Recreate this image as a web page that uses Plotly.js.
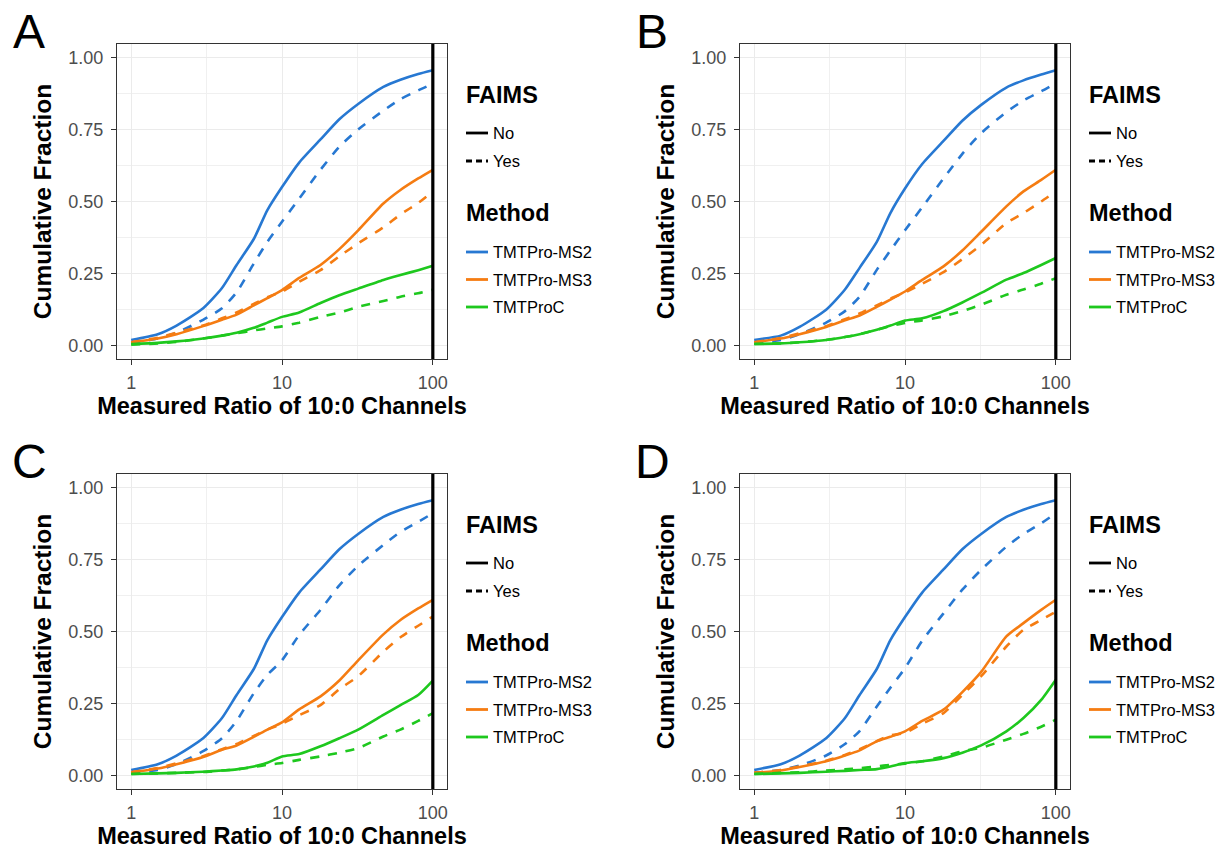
<!DOCTYPE html>
<html>
<head>
<meta charset="utf-8">
<script src="https://cdn.plot.ly/plotly-3.0.1.min.js"></script>
<style>html,body{margin:0;padding:0;background:#fff;}#chart{width:1227px;height:849px;}</style>
</head>
<body>
<div id="chart"></div>
<script>
// ---------- data ----------
const ratio = [1, 1.5, 2, 3, 4, 5, 6.5, 8, 10, 13, 18, 24, 32, 47, 61, 80, 100];
const methods = ['TMTPro-MS2', 'TMTPro-MS3', 'TMTProC'];
const methodColors = ['#2778d2', '#f57c12', '#1ec81e'];
const faimsLevels = ['No', 'Yes'];
const panelLabels = ['A', 'B', 'C', 'D'];
const xTickVals = [1, 10, 100];
const xTickText = ['1', '10', '100'];
const yTickVals = [0, 0.25, 0.5, 0.75, 1];
const yTickText = ['0.00', '0.25', '0.50', '0.75', '1.00'];
const refRatio = 100;

// Panel A
const A_ms2_no  = [0.02, 0.04, 0.07, 0.13, 0.20, 0.28, 0.37, 0.47, 0.55, 0.635, 0.715, 0.785, 0.838, 0.897, 0.922, 0.942, 0.955];
const A_ms2_yes = [0.01, 0.025, 0.045, 0.09, 0.13, 0.185, 0.285, 0.36, 0.43, 0.51, 0.61, 0.69, 0.75, 0.815, 0.855, 0.885, 0.908];
const A_ms3_no  = [0.012, 0.025, 0.04, 0.068, 0.09, 0.108, 0.14, 0.165, 0.193, 0.235, 0.28, 0.335, 0.40, 0.493, 0.54, 0.58, 0.61];
const A_ms3_yes = [0.012, 0.028, 0.045, 0.07, 0.095, 0.115, 0.145, 0.168, 0.188, 0.222, 0.262, 0.31, 0.355, 0.41, 0.455, 0.495, 0.535];
const A_proc_no = [0.006, 0.01, 0.015, 0.025, 0.035, 0.045, 0.062, 0.08, 0.10, 0.115, 0.148, 0.175, 0.198, 0.228, 0.245, 0.262, 0.277];
const A_proc_yes= [0.004, 0.008, 0.013, 0.025, 0.035, 0.043, 0.053, 0.06, 0.067, 0.08, 0.10, 0.115, 0.135, 0.155, 0.17, 0.182, 0.194];
// Panel B
const B_ms2_no  = [0.02, 0.035, 0.065, 0.125, 0.195, 0.27, 0.36, 0.46, 0.545, 0.63, 0.71, 0.78, 0.835, 0.895, 0.92, 0.94, 0.955];
const B_ms2_yes = [0.01, 0.02, 0.04, 0.08, 0.12, 0.17, 0.263, 0.33, 0.40, 0.48, 0.58, 0.665, 0.737, 0.81, 0.85, 0.882, 0.91];
const B_ms3_no  = [0.012, 0.025, 0.04, 0.065, 0.088, 0.105, 0.135, 0.16, 0.188, 0.228, 0.275, 0.33, 0.395, 0.483, 0.535, 0.575, 0.61];
const B_ms3_yes = [0.012, 0.027, 0.043, 0.068, 0.092, 0.112, 0.14, 0.163, 0.185, 0.215, 0.255, 0.30, 0.35, 0.425, 0.46, 0.50, 0.535];
const B_proc_no = [0.006, 0.008, 0.012, 0.02, 0.03, 0.04, 0.055, 0.07, 0.087, 0.095, 0.12, 0.15, 0.183, 0.229, 0.252, 0.28, 0.304];
const B_proc_yes= [0.006, 0.008, 0.012, 0.02, 0.03, 0.04, 0.055, 0.068, 0.079, 0.088, 0.102, 0.12, 0.142, 0.177, 0.195, 0.215, 0.234];
// Panel C
const C_ms2_no  = [0.02, 0.04, 0.07, 0.13, 0.20, 0.28, 0.37, 0.47, 0.55, 0.635, 0.715, 0.785, 0.838, 0.897, 0.922, 0.942, 0.955];
const C_ms2_yes = [0.01, 0.02, 0.04, 0.085, 0.13, 0.19, 0.286, 0.35, 0.40, 0.488, 0.575, 0.66, 0.728, 0.80, 0.845, 0.88, 0.91];
const C_ms3_no  = [0.012, 0.025, 0.04, 0.065, 0.09, 0.105, 0.135, 0.16, 0.185, 0.23, 0.275, 0.33, 0.40, 0.49, 0.54, 0.58, 0.61];
const C_ms3_yes = [0.012, 0.027, 0.043, 0.068, 0.092, 0.11, 0.138, 0.16, 0.18, 0.21, 0.245, 0.30, 0.345, 0.43, 0.48, 0.52, 0.552];
const C_proc_no = [0.006, 0.008, 0.01, 0.014, 0.018, 0.022, 0.032, 0.045, 0.067, 0.075, 0.102, 0.13, 0.16, 0.211, 0.245, 0.28, 0.33];
const C_proc_yes= [0.006, 0.008, 0.01, 0.013, 0.018, 0.022, 0.03, 0.038, 0.044, 0.055, 0.067, 0.08, 0.096, 0.136, 0.16, 0.19, 0.217];
// Panel D
const D_ms2_no  = [0.02, 0.04, 0.07, 0.13, 0.20, 0.28, 0.37, 0.47, 0.55, 0.635, 0.715, 0.785, 0.838, 0.897, 0.922, 0.942, 0.955];
const D_ms2_yes = [0.01, 0.02, 0.035, 0.07, 0.11, 0.155, 0.24, 0.305, 0.373, 0.468, 0.563, 0.645, 0.714, 0.794, 0.838, 0.875, 0.91];
const D_ms3_no  = [0.01, 0.018, 0.03, 0.05, 0.07, 0.088, 0.119, 0.135, 0.154, 0.19, 0.229, 0.29, 0.36, 0.483, 0.529, 0.575, 0.61];
const D_ms3_yes = [0.01, 0.02, 0.032, 0.052, 0.072, 0.092, 0.12, 0.14, 0.148, 0.18, 0.217, 0.28, 0.345, 0.448, 0.506, 0.54, 0.569];
const D_proc_no = [0.006, 0.008, 0.01, 0.014, 0.017, 0.02, 0.023, 0.032, 0.044, 0.05, 0.061, 0.08, 0.105, 0.154, 0.20, 0.263, 0.333];
const D_proc_yes= [0.006, 0.01, 0.012, 0.018, 0.022, 0.026, 0.032, 0.038, 0.042, 0.05, 0.067, 0.085, 0.097, 0.125, 0.145, 0.17, 0.194];

const panelSeries = [
  [[A_ms2_no, A_ms2_yes], [A_ms3_no, A_ms3_yes], [A_proc_no, A_proc_yes]],
  [[B_ms2_no, B_ms2_yes], [B_ms3_no, B_ms3_yes], [B_proc_no, B_proc_yes]],
  [[C_ms2_no, C_ms2_yes], [C_ms3_no, C_ms3_yes], [C_proc_no, C_proc_yes]],
  [[D_ms2_no, D_ms2_yes], [D_ms3_no, D_ms3_yes], [D_proc_no, D_proc_yes]]
];

// ---------- layout geometry (pixels) ----------
const W = 1227, H = 849;
const FONT = 'Liberation Sans, Arial, sans-serif';
const colLeft = [117, 740], plotW = 330;
const rowTop = [44, 474], plotH = 315;
const cols = [0, 1, 0, 1], rows = [0, 0, 1, 1];
const dashes = ['solid', 'dash'];

const traces = [];
const layout = {
  width: W, height: H,
  margin: {l: 0, r: 0, t: 0, b: 0},
  paper_bgcolor: '#ffffff', plot_bgcolor: '#ffffff',
  showlegend: false,
  font: {family: FONT, color: '#000'},
  shapes: [], annotations: []
};

panelLabels.forEach((lab, p) => {
  const sfx = p === 0 ? '' : String(p + 1);
  const xa = 'x' + sfx, ya = 'y' + sfx;
  const x0 = colLeft[cols[p]], y0 = rowTop[rows[p]];
  layout['xaxis' + sfx] = {
    type: 'log', range: [-0.094, 2.094], anchor: ya,
    domain: [x0 / W, (x0 + plotW) / W],
    tickvals: xTickVals, ticktext: xTickText,
    ticks: 'outside', ticklen: 5, tickwidth: 1.3, tickcolor: '#333',
    ticklabelstandoff: 2,
    tickfont: {family: FONT, size: 18, color: '#4d4d4d'},
    showgrid: true, gridcolor: '#ebebeb', gridwidth: 1.4,
    minor: {tickvals: [3.1623, 31.623], showgrid: true, gridcolor: '#f0f0f0', gridwidth: 0.9, ticks: ''},
    showline: true, mirror: true, linecolor: '#333', linewidth: 1.2,
    zeroline: false,
    title: {text: 'Measured Ratio of 10:0 Channels', standoff: 5,
            font: {family: FONT, size: 23.5, weight: 'bold', color: '#000'}}
  };
  layout['yaxis' + sfx] = {
    range: [-0.046, 1.046], anchor: xa,
    domain: [1 - (y0 + plotH) / H, 1 - y0 / H],
    tickvals: yTickVals, ticktext: yTickText,
    ticks: 'outside', ticklen: 5, tickwidth: 1.3, tickcolor: '#333',
    ticklabelstandoff: 4,
    tickfont: {family: FONT, size: 18, color: '#4d4d4d'},
    showgrid: true, gridcolor: '#ebebeb', gridwidth: 1.4,
    minor: {tickvals: [0.125, 0.375, 0.625, 0.875], showgrid: true, gridcolor: '#f0f0f0', gridwidth: 0.9, ticks: ''},
    showline: true, mirror: true, linecolor: '#333', linewidth: 1.2,
    zeroline: false,
    title: {text: 'Cumulative Fraction', standoff: 9,
            font: {family: FONT, size: 24.5, weight: 'bold', color: '#000'}}
  };

  // curves
  methods.forEach((m, mi) => {
    faimsLevels.forEach((f, fi) => {
      traces.push({
        type: 'scatter', mode: 'lines', xaxis: xa, yaxis: ya,
        x: ratio, y: panelSeries[p][mi][fi],
        name: m + ' (FAIMS ' + f + ')',
        line: {color: methodColors[mi], width: 2.6, dash: dashes[fi], shape: 'spline', smoothing: 0.6},
        hoverinfo: 'x+y+name'
      });
    });
  });

  // reference line at ratio 100
  layout.shapes.push({type: 'line', xref: xa, yref: ya + ' domain', x0: refRatio, x1: refRatio, y0: 0, y1: 1,
                      line: {color: '#000', width: 3.2}});

  // panel letter
  layout.annotations.push({text: lab, xref: 'paper', yref: 'paper', showarrow: false,
    x: (x0 - 88) / W, y: 1 - (y0 - 13) / H, xanchor: 'center', yanchor: 'middle',
    font: {family: FONT, size: 48, color: '#000'}});

  // legend (FAIMS / Method)
  const lx = x0 + plotW + 19;
  const swLen = 22;
  const addTitle = (txt, yy) => layout.annotations.push({text: '<b>' + txt + '</b>', xref: 'paper', yref: 'paper',
    showarrow: false, x: (lx - 2) / W, y: 1 - (y0 + yy) / H, xanchor: 'left', yanchor: 'middle',
    font: {family: FONT, size: 23.5, color: '#000'}});
  const addItem = (txt, yy, color, dash) => {
    layout.shapes.push({type: 'line', xref: 'paper', yref: 'paper',
      x0: lx / W, x1: (lx + swLen) / W, y0: 1 - (y0 + yy) / H, y1: 1 - (y0 + yy) / H,
      line: {color: color, width: 2.8, dash: dash}});
    layout.annotations.push({text: txt, xref: 'paper', yref: 'paper', showarrow: false,
      x: (lx + swLen + 3) / W, y: 1 - (y0 + yy) / H, xanchor: 'left', yanchor: 'middle',
      font: {family: FONT, size: 16.5, color: '#000'}});
  };
  addTitle('FAIMS', 51);
  faimsLevels.forEach((f, fi) => addItem(f, 89 + fi * 28, '#000', fi ? '6px,4px' : 'solid'));
  addTitle('Method', 169);
  methods.forEach((m, mi) => addItem(m, 208 + mi * 27.5, methodColors[mi], 'solid'));
});

Plotly.newPlot('chart', traces, layout, {displayModeBar: false, staticPlot: false});
</script>
</body>
</html>
